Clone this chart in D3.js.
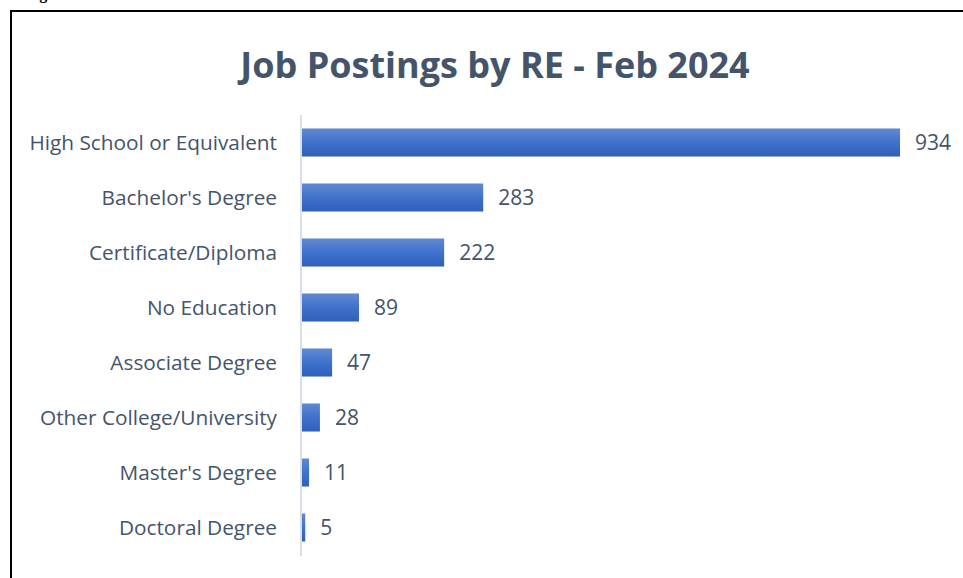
<!DOCTYPE html>
<html>
<head>
  <meta charset="utf-8">
  <title>Job Postings by RE - Feb 2024</title>
  <style>
    body { margin: 0; background: #fff; }
    text { font-family: "Open Sans", "Noto Sans", sans-serif; }
    .cat { font-size: 20.8px; fill: #44546a; }
    .val { font-size: 21px; fill: #44546a; }
    .title { font-size: 36px; font-weight: bold; fill: #44546a; }
  </style>
</head>
<body>
  <script src="https://d3js.org/d3.v7.min.js"></script>
  <svg width="963" height="578"></svg>
  <script>
    // data
    var categories = ["High School or Equivalent", "Bachelor's Degree", "Certificate/Diploma",
      "No Education", "Associate Degree", "Other College/University", "Master's Degree", "Doctoral Degree"];
    var postings = [934, 283, 222, 89, 47, 28, 11, 5];

    var data = categories.map(function(c, i) { return { name: c, value: postings[i] }; });

    var svg = d3.select("svg");

    // frame lines (top and left, as in the cropped page)
    svg.append("line").attr("x1", 11).attr("x2", 963).attr("y1", 11).attr("y2", 11)
        .attr("stroke", "#000").attr("stroke-width", 2);
    svg.append("line").attr("x1", 11).attr("x2", 11).attr("y1", 10).attr("y2", 578)
        .attr("stroke", "#000").attr("stroke-width", 2);

    // cut-off caption above the frame
    svg.append("text").attr("x", 25).attr("y", -1)
        .style("font-family", "Liberation Serif").style("font-weight", "bold").style("font-size", "16px")
        .attr("fill", "#000").text("Figure");

    var x = d3.scaleLinear().domain([0, 1000]).range([302, 942.3]);
    var y = d3.scaleBand().domain(categories).range([115, 555]).paddingInner(0.49).paddingOuter(0.245);

    var defs = svg.append("defs");
    var grad = defs.append("linearGradient").attr("id", "barGrad")
        .attr("x1", 0).attr("x2", 0).attr("y1", 0).attr("y2", 1);
    grad.append("stop").attr("offset", "0%").attr("stop-color", "#6189d0");
    grad.append("stop").attr("offset", "50%").attr("stop-color", "#3f72cc");
    grad.append("stop").attr("offset", "100%").attr("stop-color", "#2f5fb8");

    svg.append("text").attr("class", "title")
        .attr("x", 495).attr("y", 78).attr("text-anchor", "middle")
        .text("Job Postings by RE - Feb 2024");

    svg.selectAll(".bar").data(data).enter().append("rect")
        .attr("class", "bar")
        .attr("x", x(0))
        .attr("y", function(d) { return y(d.name); })
        .attr("width", function(d) { return x(d.value) - x(0); })
        .attr("height", y.bandwidth())
        .attr("fill", "url(#barGrad)");

    // category axis line
    svg.append("line").attr("x1", 301).attr("x2", 301).attr("y1", 115).attr("y2", 556)
        .attr("stroke", "#d9dee8").attr("stroke-width", 2);

    svg.selectAll(".cat").data(data).enter().append("text")
        .attr("class", "cat")
        .attr("x", 277)
        .attr("y", function(d) { return y(d.name) + y.bandwidth() / 2; })
        .attr("dy", "0.35em")
        .attr("text-anchor", "end")
        .text(function(d) { return d.name; });

    svg.selectAll(".val").data(data).enter().append("text")
        .attr("class", "val")
        .attr("x", function(d) { return x(d.value) + 15; })
        .attr("y", function(d) { return y(d.name) + y.bandwidth() / 2; })
        .attr("dy", "0.38em")
        .text(function(d) { return d.value; });
  </script>
</body>
</html>
